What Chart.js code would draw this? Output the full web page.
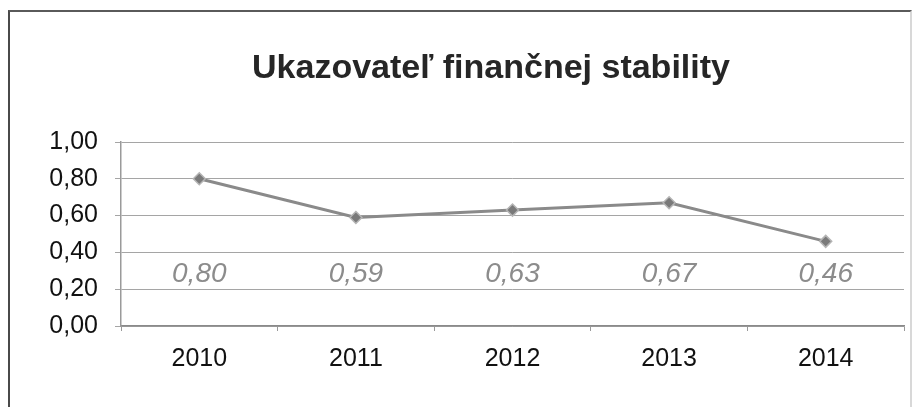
<!DOCTYPE html>
<html>
<head>
<meta charset="utf-8">
<script src="https://cdn.jsdelivr.net/npm/chart.js@4"></script>
<style>
  html, body { margin: 0; padding: 0; background: #ffffff; }
  #wrap { position: relative; width: 923px; height: 407px; overflow: hidden; }
  #frame { position: absolute; left: 8px; top: 10px; width: 900px; height: 420px;
           border-top: 2px solid #5a5a5a; border-left: 2px solid #4a4a4a; border-right: 2px solid #d8d8d8; }
  canvas { position: absolute; left: 0; top: 0; }
</style>
</head>
<body>
<div id="wrap">
  <div id="frame"></div>
  <canvas id="c" width="923" height="407"></canvas>
</div>
<script>
const titleText = 'Ukazovateľ finančnej stability';
const years = ['2010', '2011', '2012', '2013', '2014'];
const stabilityValues = [0.80, 0.59, 0.63, 0.67, 0.46];
const yTickValues = [0, 0.2, 0.4, 0.6, 0.8, 1.0];

const FONT = '"Liberation Sans", Arial, sans-serif';
const fmt = v => Number(v).toFixed(2).replace('.', ',');

const titlePlugin = {
  id: 'shiftedTitle',
  afterDraw(chart) {
    const ctx = chart.ctx;
    ctx.save();
    ctx.font = 'bold 34px ' + FONT;
    ctx.fillStyle = '#262626';
    ctx.textAlign = 'center';
    ctx.textBaseline = 'alphabetic';
    ctx.fillText(titleText, 491, 78);
    ctx.restore();
  }
};

const labelPlugin = {
  id: 'fixedLabels',
  afterDatasetsDraw(chart) {
    const ctx = chart.ctx;
    const meta = chart.getDatasetMeta(0);
    const y = chart.scales.y.getPixelForValue(0.28);
    ctx.save();
    ctx.font = 'italic 28px ' + FONT;
    ctx.fillStyle = '#8c8c8c';
    ctx.textAlign = 'center';
    ctx.textBaseline = 'middle';
    meta.data.forEach((pt, i) => {
      ctx.fillText(fmt(chart.data.datasets[0].data[i]), pt.x, y);
    });
    ctx.restore();
  }
};

new Chart(document.getElementById('c'), {
  type: 'line',
  data: {
    labels: years,
    datasets: [{
      data: stabilityValues,
      borderColor: '#8a8a8a',
      borderWidth: 3,
      pointStyle: 'rectRot',
      pointRadius: 6,
      pointBackgroundColor: '#7a7a7a',
      pointBorderColor: '#b5b5b5',
      pointBorderWidth: 1.5,
      tension: 0
    }]
  },
  options: {
    responsive: false,
    animation: false,
    devicePixelRatio: 1,
    layout: { padding: { left: 0, right: 19, top: 142, bottom: 0 } },
    plugins: {
      legend: { display: false },
      tooltip: { enabled: false },
      title: { display: false }
    },
    scales: {
      x: {
        offset: true,
        grid: { display: true, drawOnChartArea: false, drawTicks: true, tickLength: 5, color: '#9a9a9a', offset: true },
        border: { display: true, color: '#8a8a8a', width: 1.5 },
        ticks: { color: '#111111', font: { family: FONT, size: 25 }, padding: 13, maxRotation: 0 },
        afterFit(scale) { scale.height = 81; }
      },
      y: {
        min: 0,
        max: 1,
        afterBuildTicks(scale) { scale.ticks = yTickValues.map(v => ({ value: v })); },
        grid: { color: '#a5a5a5', lineWidth: 1, drawTicks: true, tickLength: 6 },
        border: { display: true, color: '#9a9a9a', width: 1.5 },
        ticks: { color: '#111111', font: { family: FONT, size: 25 }, padding: 17, callback: v => fmt(v) },
        afterFit(scale) { scale.width = 121; }
      }
    }
  },
  plugins: [labelPlugin, titlePlugin]
});
</script>
</body>
</html>
